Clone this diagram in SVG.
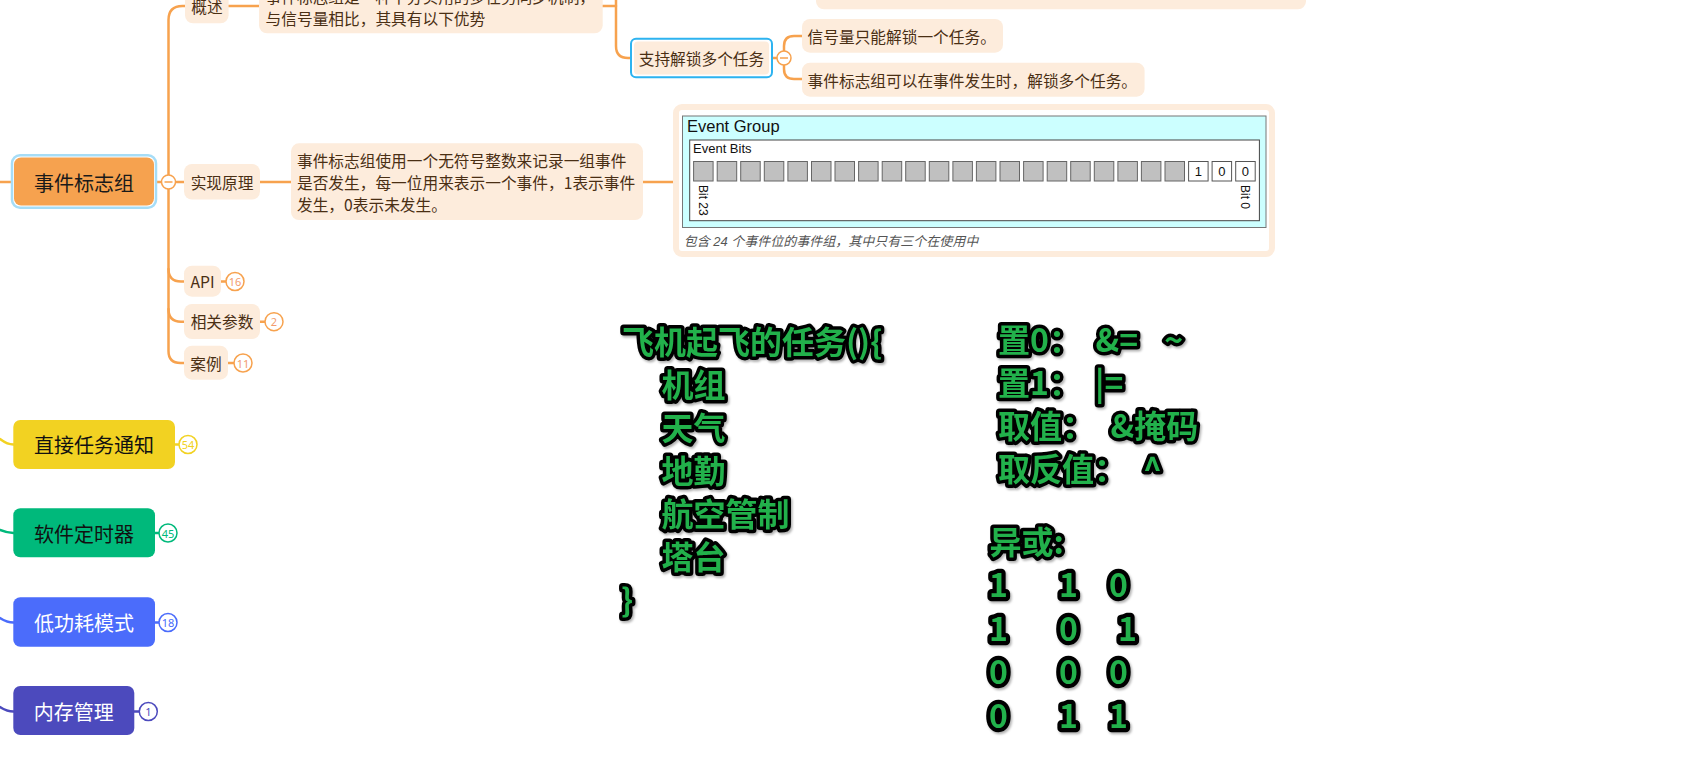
<svg xmlns="http://www.w3.org/2000/svg" width="1689" height="772" viewBox="0 0 1689 772">
<defs>
<style>
.ln{fill:none;stroke:#F7A24E;stroke-width:2.5;stroke-linecap:round}
.pn{fill:#FDECDC}
.t{font-family:"Noto Sans CJK SC","Noto Sans",sans-serif;font-size:15.7px;fill:#4a2f14;dominant-baseline:central}
.tc{text-anchor:middle}
.bd{fill:#fff;stroke-width:1.5}
.bt{font-family:"Noto Sans","Liberation Sans",sans-serif;font-size:11px;text-anchor:middle;dominant-baseline:central}
.big{font-family:"Noto Sans CJK SC",sans-serif;font-size:20px;text-anchor:middle;dominant-baseline:central}
.g{font-family:"Noto Sans CJK SC","Noto Sans",sans-serif;font-size:32px;font-weight:bold;fill:#22B14C;stroke:#000;stroke-width:7;stroke-linejoin:round;paint-order:stroke;filter:url(#sh)}
.d{stroke-width:8.5}
.bit{fill:#C0C0C0;stroke:#666;stroke-width:1}
.bitw{fill:#fff;stroke:#555;stroke-width:1}
.ar{font-family:"Liberation Sans",Arial,sans-serif;fill:#111}
.col{fill:#fff;stroke:#F7A24E;stroke-width:1.5}
</style>
<filter id="sh" x="-10%" y="-20%" width="130%" height="150%"><feDropShadow dx="1.5" dy="2" stdDeviation="1" flood-color="#000" flood-opacity="0.3"/></filter>
</defs>

<g id="connectors">
<path class="ln" d="M0 182 H13"/>
<path class="ln" d="M157 182 H161"/>
<path class="ln" d="M168.5 175 V20 Q168.5 6 182.5 6 H186"/>
<path class="ln" d="M168.5 189 V351 Q168.5 363 180.5 363 H185"/>
<path class="ln" d="M168.5 269 Q168.5 281.5 181 281.5 H185"/>
<path class="ln" d="M168.5 309 Q168.5 321.7 181 321.7 H185"/>
<path class="ln" d="M175.5 182 H185"/>
<path class="ln" d="M228 6 H259"/>
<path class="ln" d="M602 6 H616"/>
<path class="ln" d="M616 -20 V46 Q616 58 628 58 H631"/>
<path class="ln" d="M773 58 H777"/>
<path class="ln" d="M784 51 V46 Q784 36 794 36 H802"/>
<path class="ln" d="M784 65 V69 Q784 79 794 79 H802"/>
<path class="ln" d="M260 182 H291"/>
<path class="ln" d="M643 182 H673"/>
<path class="ln" d="M221 281.5 H226"/>
<path class="ln" d="M260 321.7 H265"/>
<path class="ln" d="M228 363 H234"/>
<path class="ln" style="stroke:#F2D222" d="M0 439 Q7 444.5 13.5 444.5 M175 444.5 H179"/>
<path class="ln" style="stroke:#00B97B" d="M0 530 Q7 533 13.5 533 M155 533 H159"/>
<path class="ln" style="stroke:#4B6CFB" d="M0 618 Q7 622.5 13.5 622.5 M155 622.5 H159"/>
<path class="ln" style="stroke:#4C4ABD" d="M0 707 Q7 711.5 13.5 711.5 M134 711.5 H139"/>
</g>

<g id="root">
<rect x="12" y="155.3" width="144" height="52.5" rx="8" fill="#fff" stroke="#A6DDF7" stroke-width="2.5"/>
<rect x="14" y="157.5" width="140" height="48" rx="7" fill="#F6A24F"/>
<text class="big" x="84" y="182" fill="#1a1a1a">事件标志组</text>
<circle class="col" cx="168.5" cy="182" r="7"/>
<path d="M164.5 182 H172.5" stroke="#F7A24E" stroke-width="1.5"/>
</g>

<g id="n-gaishu">
<rect class="pn" x="185" y="-20" width="43.6" height="43.3" rx="8"/>
<text class="t tc" x="207" y="6">概述</text>
</g>
<g id="n-gaishu-desc">
<rect class="pn" x="259" y="-20" width="343.7" height="53.3" rx="8"/>
<text class="t" x="265.6" y="-3.5">事件标志组是一种十分实用的多任务同步机制，</text>
<text class="t" x="265.6" y="18.3">与信号量相比，其具有以下优势</text>
</g>
<g id="n-top">
<rect class="pn" x="816" y="-30" width="490" height="39.3" rx="8"/>
</g>
<g id="n-zhichi">
<rect x="631" y="38.7" width="141" height="38.6" rx="5" fill="#fff" stroke="#2DB3F0" stroke-width="2"/>
<rect class="pn" x="634" y="41.5" width="135" height="33" rx="4"/>
<text class="t tc" x="701.5" y="58.5">支持解锁多个任务</text>
<circle class="col" cx="784" cy="58" r="7"/>
<path d="M780 58 H788" stroke="#F7A24E" stroke-width="1.5"/>
</g>
<g id="n-xinhao">
<rect class="pn" x="802" y="19" width="201" height="33.7" rx="8"/>
<text class="t" x="807.6" y="36">信号量只能解锁一个任务。</text>
</g>
<g id="n-shijian">
<rect class="pn" x="802" y="62.7" width="342.6" height="34" rx="8"/>
<text class="t" x="807.6" y="80">事件标志组可以在事件发生时，解锁多个任务。</text>
</g>

<g id="n-shixian">
<rect class="pn" x="184" y="164" width="76" height="35.5" rx="8"/>
<text class="t tc" x="222" y="182">实现原理</text>
</g>
<g id="n-shixian-desc">
<rect class="pn" x="291" y="143.3" width="352" height="76.7" rx="8"/>
<text class="t" x="297" y="160.5">事件标志组使用一个无符号整数来记录一组事件</text>
<text class="t" x="297" y="182.5">是否发生，每一位用来表示一个事件，1表示事件</text>
<text class="t" x="297" y="204.5">发生，0表示未发生。</text>
</g>

<g id="n-image">
<rect x="676" y="107" width="596" height="147" rx="6" fill="#fff" stroke="#FDECDC" stroke-width="6"/>
<rect x="682.5" y="116" width="583.5" height="111.5" fill="#CCFFFF" stroke="#777" stroke-width="1"/>
<text class="ar" x="687" y="131.7" font-size="16.5">Event Group</text>
<rect x="689.7" y="140" width="569.7" height="80.7" fill="#fff" stroke="#444" stroke-width="1"/>
<text class="ar" x="693" y="152.5" font-size="13">Event Bits</text>
<g>
<rect class="bit" x="693.6" y="161.5" width="19.5" height="19.5"/>
<rect class="bit" x="717.2" y="161.5" width="19.5" height="19.5"/>
<rect class="bit" x="740.7" y="161.5" width="19.5" height="19.5"/>
<rect class="bit" x="764.3" y="161.5" width="19.5" height="19.5"/>
<rect class="bit" x="787.9" y="161.5" width="19.5" height="19.5"/>
<rect class="bit" x="811.5" y="161.5" width="19.5" height="19.5"/>
<rect class="bit" x="835.0" y="161.5" width="19.5" height="19.5"/>
<rect class="bit" x="858.6" y="161.5" width="19.5" height="19.5"/>
<rect class="bit" x="882.2" y="161.5" width="19.5" height="19.5"/>
<rect class="bit" x="905.7" y="161.5" width="19.5" height="19.5"/>
<rect class="bit" x="929.3" y="161.5" width="19.5" height="19.5"/>
<rect class="bit" x="952.9" y="161.5" width="19.5" height="19.5"/>
<rect class="bit" x="976.4" y="161.5" width="19.5" height="19.5"/>
<rect class="bit" x="1000.0" y="161.5" width="19.5" height="19.5"/>
<rect class="bit" x="1023.6" y="161.5" width="19.5" height="19.5"/>
<rect class="bit" x="1047.2" y="161.5" width="19.5" height="19.5"/>
<rect class="bit" x="1070.7" y="161.5" width="19.5" height="19.5"/>
<rect class="bit" x="1094.3" y="161.5" width="19.5" height="19.5"/>
<rect class="bit" x="1117.9" y="161.5" width="19.5" height="19.5"/>
<rect class="bit" x="1141.4" y="161.5" width="19.5" height="19.5"/>
<rect class="bit" x="1165.0" y="161.5" width="19.5" height="19.5"/>
<rect class="bitw" x="1188.6" y="161.5" width="19.5" height="19.5"/>
<rect class="bitw" x="1212.1" y="161.5" width="19.5" height="19.5"/>
<rect class="bitw" x="1235.7" y="161.5" width="19.5" height="19.5"/>
</g>
<text class="ar" x="1198.3" y="176" font-size="13" text-anchor="middle">1</text>
<text class="ar" x="1221.9" y="176" font-size="13" text-anchor="middle">0</text>
<text class="ar" x="1245.4" y="176" font-size="13" text-anchor="middle">0</text>
<text class="ar" font-size="12" transform="translate(699 185) rotate(90)">Bit 23</text>
<text class="ar" font-size="12" transform="translate(1241.3 185) rotate(90)">Bit 0</text>
<text x="683.7" y="246" font-family="Liberation Sans,'Noto Sans CJK SC',sans-serif" font-size="13" font-style="italic" fill="#555">包含 24 个事件位的事件组，其中只有三个在使用中</text>
</g>

<g id="n-api">
<rect class="pn" x="184" y="265.7" width="37" height="31" rx="8"/>
<text class="t tc" x="202.5" y="281.5">API</text>
<circle class="bd" cx="235" cy="281.5" r="9" stroke="#F7A24E"/>
<text class="bt" x="235" y="281.5" fill="#F29C6E">16</text>
</g>
<g id="n-canshu">
<rect class="pn" x="184" y="304" width="76" height="35" rx="8"/>
<text class="t tc" x="222" y="321.7">相关参数</text>
<circle class="bd" cx="274" cy="321.7" r="9" stroke="#F7A24E"/>
<text class="bt" x="274" y="321.7" fill="#F29C6E">2</text>
</g>
<g id="n-anli">
<rect class="pn" x="184" y="345.7" width="44" height="34" rx="8"/>
<text class="t tc" x="206" y="363">案例</text>
<circle class="bd" cx="243" cy="363" r="9" stroke="#F7A24E"/>
<text class="bt" x="243" y="363" fill="#F29C6E">11</text>
</g>

<g id="n-tongzhi">
<rect x="13.3" y="420" width="161.7" height="49" rx="7" fill="#F2D222"/>
<text class="big" x="94" y="444.5" fill="#111">直接任务通知</text>
<circle class="bd" cx="188" cy="444.5" r="9" stroke="#F2D222"/>
<text class="bt" x="188" y="444.5" fill="#F2D222">54</text>
</g>
<g id="n-dingshi">
<rect x="13.3" y="508.3" width="141.7" height="49" rx="7" fill="#00B97B"/>
<text class="big" x="84" y="533" fill="#111">软件定时器</text>
<circle class="bd" cx="168" cy="533" r="9" stroke="#00B97B"/>
<text class="bt" x="168" y="533" fill="#00B97B">45</text>
</g>
<g id="n-digonghao">
<rect x="13.3" y="597.3" width="141.7" height="49.4" rx="7" fill="#4B6CFB"/>
<text class="big" x="84" y="622.5" fill="#fff">低功耗模式</text>
<circle class="bd" cx="168" cy="622.5" r="9" stroke="#4B6CFB"/>
<text class="bt" x="168" y="622.5" fill="#4B6CFB">18</text>
</g>
<g id="n-neicun">
<rect x="13.3" y="686" width="121" height="49" rx="7" fill="#4C4ABD"/>
<text class="big" x="73.8" y="711" fill="#fff">内存管理</text>
<circle class="bd" cx="148.3" cy="711.5" r="9" stroke="#4C4ABD"/>
<text class="bt" x="148.3" y="711.5" fill="#4C4ABD">1</text>
</g>

<g id="green-left">
<text class="g"><tspan x="622" y="354">飞机起飞的任务(){</tspan><tspan x="661.5" y="397">机组</tspan><tspan x="661.5" y="440">天气</tspan><tspan x="661.5" y="483">地勤</tspan><tspan x="661.5" y="526">航空管制</tspan><tspan x="661.5" y="569">塔台</tspan><tspan x="621" y="612">}</tspan></text>
</g>
<g id="green-right">
<text class="g"><tspan x="998" y="351.5">置0：</tspan><tspan x="1095.5">&amp;=</tspan><tspan x="1157"> ~</tspan><tspan x="998" y="395">置1：</tspan><tspan x="1095">|=</tspan><tspan x="998" y="438">取值：</tspan><tspan x="1110.5">&amp;掩码</tspan><tspan x="998" y="481">取反值：</tspan><tspan x="1143">^</tspan></text>
<text class="g"><tspan x="989.5" y="554">异或:</tspan><tspan class="d" x="989" y="597">1</tspan><tspan class="d" x="1059">1</tspan><tspan class="d" x="1109">0</tspan><tspan class="d" x="989" y="640.5">1</tspan><tspan class="d" x="1059">0</tspan><tspan class="d" x="1118">1</tspan><tspan class="d" x="989" y="684">0</tspan><tspan class="d" x="1059">0</tspan><tspan class="d" x="1109">0</tspan><tspan class="d" x="989" y="727.5">0</tspan><tspan class="d" x="1059">1</tspan><tspan class="d" x="1109">1</tspan></text>
</g>
</svg>
